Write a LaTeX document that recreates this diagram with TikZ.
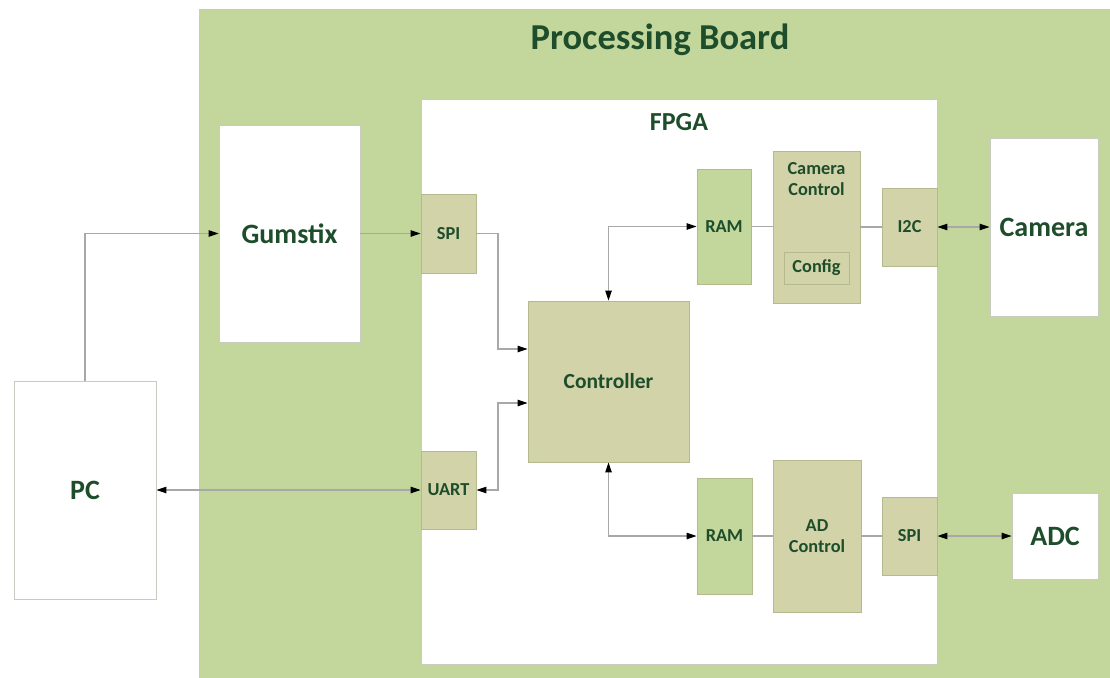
\documentclass[tikz,border=0pt]{standalone}
\usepackage{fontspec}
\setmainfont{Carlito}
\usetikzlibrary{arrows.meta}
\definecolor{boardgreen}{HTML}{C3D69B}
\definecolor{tanbox}{HTML}{D3D3A9}
\definecolor{tanedge}{HTML}{B4B98E}
\definecolor{txtgreen}{HTML}{1D4D2B}
\definecolor{whiteedge}{HTML}{C8CCC0}
\definecolor{linegray}{HTML}{A8A8A8}
\tikzset{
  box/.style={rectangle, draw=whiteedge, fill=white, line width=0.9pt, inner sep=0pt,
    text=txtgreen, font=\bfseries, align=center},
  tanblk/.style={box, draw=tanedge, fill=tanbox},
  ramblk/.style={box, draw=tanedge, fill=boardgreen},
  conn/.style={draw=linegray, line width=1.1pt},
  tip/.tip={Triangle[length=10pt,width=6.5pt,color=black]},
  big/.style={font=\fontsize{28}{33}\selectfont\bfseries},
  small/.style={font=\fontsize{18.3}{21.7}\selectfont\bfseries}
}
\begin{document}
\begin{tikzpicture}[x=1pt,y=-1pt]
\useasboundingbox (0,0) rectangle (1110,677);
% board
\node[rectangle, draw=whiteedge, fill=boardgreen, line width=0.9pt, minimum width=915pt, minimum height=670pt, anchor=north west, inner sep=0pt] (board) at (199,9) {};
\node[text=txtgreen, font=\fontsize{36.5}{42}\selectfont\bfseries] (boardlabel) at (660,40) {Processing Board};
% fpga
\node[box, draw=whiteedge, minimum width=516pt, minimum height=565pt] (fpga) at (679,381.5) {};
\node[text=txtgreen, font=\fontsize{26}{31}\selectfont\bfseries] (fpgalabel) at (679,122) {FPGA};
% outside boxes
\node[box, big, minimum width=142pt, minimum height=218pt] (pc) at (85,490) {PC};
\node[box, big, minimum width=141pt, minimum height=217pt] (gum) at (289.5,233.5) {Gumstix};
\node[box, big, minimum width=108pt, minimum height=178pt] (cam) at (1044,227) {Camera};
\node[box, big, minimum width=86pt, minimum height=86pt] (adc) at (1055,536) {ADC};
% fpga blocks
\node[tanblk, small, minimum width=55pt, minimum height=79pt] (spia) at (448.5,233.5) {SPI};
\node[tanblk, small, minimum width=55pt, minimum height=78pt] (uart) at (448.5,490) {UART};
\node[tanblk, font=\fontsize{21.5}{25}\selectfont\bfseries, minimum width=161pt, minimum height=161pt] (ctrl) at (608.5,381.5) {Controller};
\node[ramblk, small, minimum width=54pt, minimum height=115pt] (rama) at (724,226.5) {RAM};
\node[tanblk, minimum width=87pt, minimum height=152pt] (cc) at (816.5,227) {};
\node[text=txtgreen, small, align=center] (cclabel) at (816.5,179) {Camera\\Control};
\node[tanblk, small, minimum width=65pt, minimum height=32pt] (cfg) at (816.5,268) {Config};
\node[tanblk, small, minimum width=55pt, minimum height=78pt] (itc) at (909.5,227) {I2C};
\node[ramblk, small, minimum width=55pt, minimum height=116pt] (ramb) at (724.5,536) {RAM};
\node[tanblk, small, minimum width=88pt, minimum height=152pt] (adcc) at (817,536) {AD\\Control};
\node[tanblk, small, minimum width=55pt, minimum height=78pt] (spib) at (909.5,536) {SPI};
% junctions
\coordinate (ja) at (498,349);
\coordinate (jb) at (498,403);
% connectors
\draw[conn,-tip] (pc.north) |- (gum.west);
\draw[conn,-tip] (gum.east) -- (spia.west);
\draw[conn,-tip] (spia.east) -| (ja) -- (ja -| ctrl.west);
\draw[conn,tip-tip] (uart.east) -| (jb) -- (jb -| ctrl.west);
\draw[conn,tip-tip] (pc.east) -- (pc.east -| uart.west);
\draw[conn,tip-tip] (ctrl.north) |- (rama.west);
\draw[conn,tip-tip] (ctrl.south) |- (ramb.west);
\draw[conn] (rama.east) -- (rama.east -| cc.west);
\draw[conn] (cc.east) -- (cc.east -| itc.west);
\draw[conn,tip-tip] (itc.east) -- (itc.east -| cam.west);
\draw[conn] (ramb.east) -- (ramb.east -| adcc.west);
\draw[conn] (adcc.east) -- (adcc.east -| spib.west);
\draw[conn,tip-tip] (spib.east) -- (spib.east -| adc.west);
\end{tikzpicture}
\end{document}
